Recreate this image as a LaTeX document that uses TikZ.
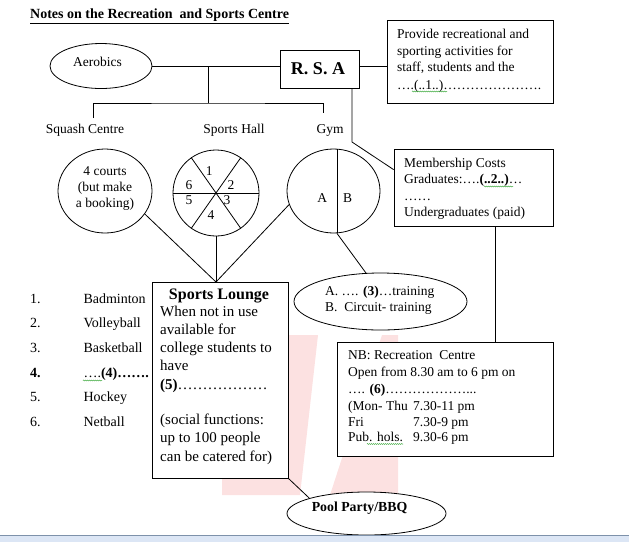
\documentclass[tikz,border=0pt]{standalone}
\usepackage{fontspec}
\setmainfont{Liberation Serif}
\usetikzlibrary{shapes.geometric,calc,decorations.pathmorphing}
\newcommand\fsz[1]{\fontsize{#1}{#1}\selectfont}
\newcommand\myell{…}
\definecolor{wmpink}{RGB}{252,225,225}
\definecolor{barblue}{RGB}{220,230,245}
\definecolor{barline}{RGB}{125,145,170}
\definecolor{spell}{RGB}{40,160,40}
\begin{document}
\begin{tikzpicture}[x=1pt,y=-1pt,
  ln/.style={line width=0.8pt},
  box/.style={draw, line width=0.8pt, fill=white, rectangle, inner sep=0pt},
  oval/.style={draw, line width=0.8pt, fill=white, ellipse, inner sep=0pt},
  txt/.style={anchor=base west, inner sep=0pt, font=\fsz{13.5}},
  ctxt/.style={anchor=base, inner sep=0pt, font=\fsz{13.5}},
  ltxt/.style={anchor=base west, inner sep=0pt, font=\fsz{15}},
  lst/.style={anchor=base west, inner sep=0pt, font=\fsz{14}},
  wavy/.style={spell, line width=0.5pt, decorate, decoration={snake, amplitude=0.5pt, segment length=2pt}}
]
\useasboundingbox (0,0) rectangle (629,542);

% faint watermark
\fill[wmpink] (222,335) -- (318,335) -- (300,495) -- (222,495) -- cycle;
\fill[wmpink] (382,335) -- (398,335) -- (398,495) -- (330,495) -- cycle;

% title
\node[txt, font=\fsz{14}\bfseries] (title) at (30,18.5) {\underline{Notes on the Recreation\ \ and Sports Centre}};

% top row
\node[oval, minimum width=102, minimum height=45] (aero) at (101,66) {};
\node[ctxt] (aerot) at (97.5,66.5) {Aerobics};
\node[box, minimum width=79, minimum height=38] (rsa) at (319.5,69) {};
\node[ctxt, font=\fsz{18}\bfseries] (rsat) at (318,74) {R. S. A};
\node[box, minimum width=166, minimum height=83] (purp) at (470,61.5) {};
\node[txt] (p1) at (397,38.3) {Provide recreational and};
\node[txt] (p2) at (397,55) {sporting activities for};
\node[txt] (p3) at (397,71.5) {staff, students and the};
\node[txt] (p4) at (397,89) {\myell.(..1..)\myell\myell\myell\myell\myell\myell\myell.};

% labels
\node[ctxt] (sqlab) at (85,133) {Squash Centre};
\node[ctxt] (hallab) at (234,133) {Sports Hall};
\node[ctxt] (gymlab) at (330,133) {Gym};

% squash
\node[oval, minimum width=94, minimum height=84] (sq) at (105,191) {};
\node[ctxt] (sq1) at (105,175) {4 courts};
\node[ctxt] (sq2) at (105,191.7) {(but make};
\node[ctxt] (sq3) at (105,207.7) {a booking)};

% sports hall
\node[draw, circle, ln, fill=white, inner sep=0pt, minimum size=86] (hall) at (216,193) {};
\draw[ln] (hall.west) -- (hall.east);
\draw[ln] (hall.55) -- (hall.235);
\draw[ln] (hall.125) -- (hall.305);
\node[ctxt] (h1) at (209.3,175) {1};
\node[ctxt] (h2) at (231,189) {2};
\node[ctxt] (h6) at (189,189) {6};
\node[ctxt] (h5) at (189,204) {5};
\node[ctxt] (h3) at (227,204) {3};
\node[ctxt] (h4) at (211,219.5) {4};

% gym
\node[oval, minimum width=93, minimum height=84] (gym) at (333.5,191) {};
\draw[ln] ($(gym.north)+(3.5,0)$) -- ($(gym.south)+(3.5,0)$);
\node[ctxt] (ga) at (322.3,202) {A};
\node[ctxt] (gb) at (347.7,202) {B};

% membership
\node[box, minimum width=159, minimum height=77] (memb) at (473.5,187.5) {};
\node[txt] (m1) at (404,167.3) {Membership Costs};
\node[txt] (m2) at (404,183.3) {Graduates:\myell.\textbf{(..2..)}\myell};
\node[txt] (m3) at (404,200.5) {\myell\myell};
\node[txt] (m4) at (404,216.3) {Undergraduates (paid)};

% training
\node[oval, minimum width=173, minimum height=57] (train) at (380.5,301.5) {};
\node[txt] (t1) at (325,295) {A. \myell. \textbf{(3)}\myell training};
\node[txt] (t2) at (325,311) {B.\ \ Circuit- training};

% lounge
\node[box, minimum width=136, minimum height=196] (lounge) at (220,380) {};
\node[ctxt, font=\fsz{16}\bfseries] (l0) at (219,299.3) {Sports Lounge};
\node[ltxt] (l1) at (160,316.7) {When not in use};
\node[ltxt] (l2) at (160,334.2) {available for};
\node[ltxt] (l3) at (160,352) {college students to};
\node[ltxt] (l4) at (160,370.3) {have};
\node[ltxt] (l5) at (160,389.3) {\textbf{(5)}\myell\myell\myell\myell\myell\myell};
\node[ltxt] (l6) at (160,424.5) {(social functions:};
\node[ltxt] (l7) at (160,442.8) {up to 100 people};
\node[ltxt] (l8) at (160,461.2) {can be catered for)};

% list
\node[lst] (n1) at (30,303.3) {1.};
\node[lst] (n2) at (30,327.3) {2.};
\node[lst] (n3) at (30,352.7) {3.};
\node[lst] (n4) at (30,377.3) {\textbf{4.}};
\node[lst] (n5) at (30,401.7) {5.};
\node[lst] (n6) at (30,426.7) {6.};
\node[lst] (i1) at (83.3,303.3) {Badminton};
\node[lst] (i2) at (83.3,327.3) {Volleyball};
\node[lst] (i3) at (83.3,352.7) {Basketball};
\node[lst] (i4) at (83.3,377.3) {\myell.\textbf{(4)\myell\myell.}};
\node[lst] (i5) at (83.3,401.7) {Hockey};
\node[lst] (i6) at (83.3,426.7) {Netball};

% NB box
\node[box, minimum width=216, minimum height=114] (nb) at (445,399) {};
\node[txt] (b1) at (348,359.3) {NB: Recreation\ \ Centre};
\node[txt] (b2) at (348,376) {Open from 8.30 am to 6 pm on};
\node[txt] (b3) at (348,393.3) {\myell. \textbf{(6)}\myell\myell\myell\myell\myell\myell...};
\node[txt] (b4) at (348,410) {(Mon- Thu};
\node[txt] (b4b) at (413,410) {7.30-11 pm};
\node[txt] (b5) at (348,426) {Fri};
\node[txt] (b5b) at (413,426) {7.30-9 pm};
\node[txt] (b6) at (348,441.7) {Pub. hols.};
\node[txt] (b6b) at (413,441.7) {9.30-6 pm};

% pool
\node[oval, minimum width=159, minimum height=43] (pool) at (366.5,513.5) {};
\node[ctxt, font=\fsz{13.8}\bfseries] (poolt) at (359.5,511.7) {Pool Party/BBQ};

% connectors
\draw[ln] (aero.east) -- (rsa.west |- aero.east);
\draw[ln] (rsa.east |- aero.east) -- (purp.west |- aero.east);
\coordinate (jA) at (208,66);
\coordinate (jB) at (208,103);
\coordinate (sqtop) at (93,118);
\coordinate (gymtop) at (323,113);
\draw[ln] (jA) -- (jB);
\draw[ln] (sqtop) |- (jB) -| (gymtop);
\coordinate (meet) at (216,282);
\draw[ln] (sq.-30) -- (meet) -- (gym.197);
\draw[ln] (hall.south) -- (meet);
\coordinate (bend) at (352,142);
\draw[ln] (rsa.south -| bend) -- (bend) -- ($(memb.north west)+(0,21)$);
\coordinate (mn) at (495,0);
\draw[ln] (memb.south -| mn) -- (nb.north -| mn);
\draw[ln] ($(gym.south)+(3.5,0)$) -- (train.117);
\draw[ln] (lounge.south east) -- (pool.165);

% spell-check squiggles
\draw[wavy] (412,91.5) -- (447,91.5);
\draw[wavy] (484,186.5) -- (513,186.5);
\draw[wavy] (83,380.5) -- (102,380.5);
\draw[wavy] (367,444) -- (403,444);

% bottom bar
\fill[barblue] (0,535.5) rectangle (629,542);
\draw[barline, line width=1pt] (0,535.5) -- (629,535.5);
\end{tikzpicture}
\end{document}
